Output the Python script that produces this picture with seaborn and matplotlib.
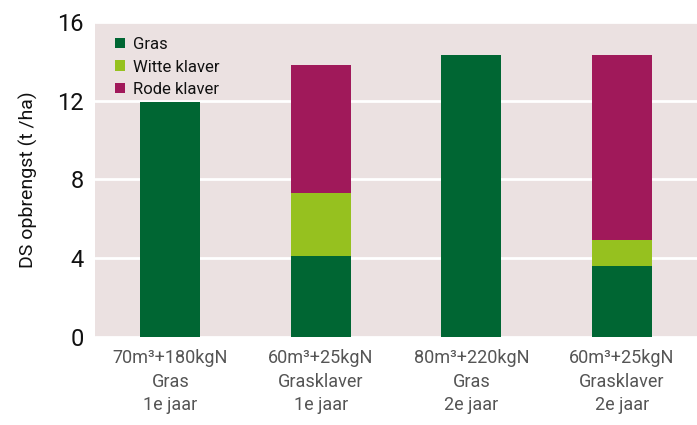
import matplotlib
matplotlib.use("Agg")
from matplotlib import pyplot as plt
import pandas as pd
import seaborn as sns

# Dry matter yield per treatment (t/ha)
labels = ["70m³+180kgN\nGras\n1e jaar", "60m³+25kgN\nGrasklaver\n1e jaar",
          "80m³+220kgN\nGras\n2e jaar", "60m³+25kgN\nGrasklaver\n2e jaar"]
gras = [11.95, 4.1, 14.3, 3.6]
witte_klaver = [0, 3.2, 0, 1.3]
rode_klaver = [0, 6.5, 0, 9.4]

GREEN = "#006633"
LIGHT_GREEN = "#96c11f"
MAGENTA = "#a0195a"
BG = "#ebe1e1"

df = pd.DataFrame({"label": labels, "gras": gras, "witte": witte_klaver, "rode": rode_klaver})
df["lvl2"] = df["gras"] + df["witte"]
df["lvl3"] = df["lvl2"] + df["rode"]

sns.set_style("white")
plt.rcParams["font.family"] = ["Roboto", "DejaVu Sans"]

fig = plt.figure(figsize=(6.97, 4.25), dpi=100)
ax = fig.add_axes([0.1363, 0.2082, 0.8637, 0.7400])
ax.set_facecolor(BG)

# stacked bars drawn as cumulative totals, back to front
sns.barplot(data=df, x="label", y="lvl3", color=MAGENTA, width=0.4, saturation=1,
            ax=ax, label="Rode klaver", zorder=3, linewidth=0)
sns.barplot(data=df, x="label", y="lvl2", color=LIGHT_GREEN, width=0.4, saturation=1,
            ax=ax, label="Witte klaver", zorder=3, linewidth=0)
sns.barplot(data=df, x="label", y="gras", color=GREEN, width=0.4, saturation=1,
            ax=ax, label="Gras", zorder=3, linewidth=0)

ax.set_xlim(-0.5, 3.5)
ax.set_ylim(0, 16)
ax.set_yticks([0, 4, 8, 12, 16])
ax.yaxis.grid(True, color="white", linewidth=2, zorder=0)
ax.set_axisbelow(True)
for s in ax.spines.values():
    s.set_visible(False)

ax.tick_params(axis="y", length=0, labelsize=17, pad=8, labelcolor="#111111")
ax.tick_params(axis="x", length=0, labelsize=13, pad=9, labelcolor="#555555")
for t in ax.get_xticklabels():
    t.set_linespacing(1.4)

ax.set_xlabel("")
ax.set_ylabel("DS opbrengst (t /ha)", fontsize=14, color="#111111", labelpad=14)

handles, lbls = ax.get_legend_handles_labels()
ax.legend(handles[::-1], lbls[::-1], loc="upper left", bbox_to_anchor=(0.008, 1.0),
          frameon=False, fontsize=12, handlelength=0.6, handleheight=0.6,
          handletextpad=0.5, labelspacing=0.45, labelcolor="#111111")

fig.savefig("out.png", dpi=100)
